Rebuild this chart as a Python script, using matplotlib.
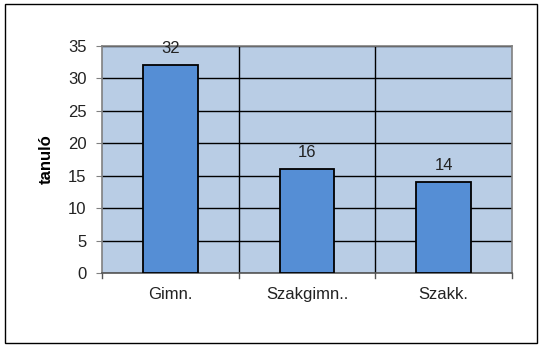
import matplotlib.pyplot as plt
from matplotlib.patches import Rectangle

categories = ["Gimn.", "Szakgimn..", "Szakk."]
values = [32, 16, 14]

plt.rcParams['font.family'] = ['Liberation Sans', 'DejaVu Sans']
plt.rcParams['font.size'] = 12

fig = plt.figure(figsize=(5.42, 3.49), dpi=100)
# keret a teljes ábra körül
fig.patches.append(Rectangle((5 / 542, 1 - 343 / 349), 532 / 542, 339 / 349,
                             transform=fig.transFigure, fill=False,
                             edgecolor='black', linewidth=1.0))

ax = fig.add_axes([102 / 542, 1 - 273 / 349, 410 / 542, 227 / 349])
ax.set_facecolor('#B9CDE5')

x = list(range(len(categories)))
ax.bar(x, values, width=0.4, color='#558ED5', edgecolor='black', linewidth=1.3, zorder=3)
for xi, v in zip(x, values):
    ax.annotate(str(v), (xi, v), xytext=(0, 6.5), textcoords='offset points',
                ha='center', va='bottom', color='#222222', zorder=4)

ax.set_xlim(-0.5, len(categories) - 0.5)
ax.set_ylim(0, 35)
ax.set_yticks(range(0, 36, 5))
ax.set_xticks(x)
ax.set_xticklabels(categories)
ax.tick_params(axis='x', length=0, pad=10, colors='#222222')
ax.tick_params(axis='y', length=4, direction='out', colors='#222222', pad=7)
ax.tick_params(axis='y', color='#808080')

# rácsvonalak
ax.grid(axis='y', color='black', linewidth=1.0, zorder=1)
for b in [0.5, 1.5]:
    ax.axvline(b, color='black', linewidth=1.0, zorder=1)
# kategóriahatárok jelölése a tengely alatt
for b in [-0.5, 0.5, 1.5, 2.5]:
    ax.plot([b, b], [0, -0.8], color='#555555', linewidth=1.0, clip_on=False, zorder=2)
ax.set_axisbelow(True)

for s in ax.spines.values():
    s.set_color('#808080')
    s.set_linewidth(1.2)
ax.spines['bottom'].set_color('#555555')

ax.set_ylabel("tanuló", fontweight='bold', labelpad=10)

fig.savefig("out.png", dpi=100)
